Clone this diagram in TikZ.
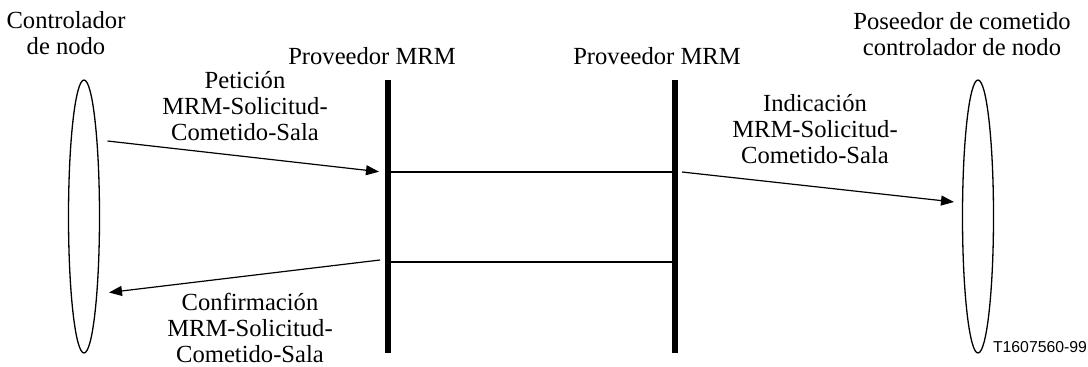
\documentclass[tikz,border=0pt]{standalone}
\usepackage{fontspec}
\setmainfont{Liberation Serif}
\newfontfamily\labsans{Liberation Sans}
\usetikzlibrary{arrows.meta,shapes.geometric}
\begin{document}
\begin{tikzpicture}[x=1pt,y=-1pt,
  lbl/.style={align=center,inner sep=0pt,font=\fontsize{24.6}{25.8}\selectfont},
  entity/.style={draw,line width=1.3pt,ellipse,inner sep=0pt,minimum width=31pt,minimum height=273pt},
  bar/.style={line width=6pt},
  link/.style={line width=2pt},
  msg/.style={line width=1.2pt,-{Triangle[length=13pt,width=10pt]}}]
\useasboundingbox (0,0) rectangle (1088,367);
% entities
\node[entity] (L) at (84,216.5) {};
\node[entity] (R) at (978,216.5) {};
% providers
\coordinate (p1t) at (387.7,80);
\coordinate (p1b) at (387.7,353);
\coordinate (p2t) at (675,80);
\coordinate (p2b) at (675,353);
\draw[bar] (p1t) -- (p1b);
\draw[bar] (p2t) -- (p2b);
% links between providers
\coordinate (h1a) at (387.7,172);
\coordinate (h1b) at (675,172);
\coordinate (h2a) at (387.7,262);
\coordinate (h2b) at (675,262);
\draw[link] (h1a) -- (h1b);
\draw[link] (h2a) -- (h2b);
% messages
\coordinate (a1s) at (107.5,141);
\coordinate (a1e) at (379,171.7);
\coordinate (a2s) at (682,172);
\coordinate (a2e) at (954,202);
\coordinate (a3s) at (380,260);
\coordinate (a3e) at (109,292.5);
\draw[msg] (a1s) -- (a1e);
\draw[msg] (a2s) -- (a2e);
\draw[msg] (a3s) -- (a3e);
% labels
\node[lbl] (tL) at (66,33) {Controlador\\de nodo};
\node[lbl] (tR) at (962,34) {Poseedor de cometido\\controlador de nodo};
\node[lbl] (tP1) at (372,56) {Proveedor MRM};
\node[lbl] (tP2) at (657,56) {Proveedor MRM};
\node[lbl] (m1) at (245,106) {Petici\'on\\MRM-Solicitud-\\Cometido-Sala};
\node[lbl] (m3) at (250,328) {Confirmaci\'on\\MRM-Solicitud-\\Cometido-Sala};
\node[lbl] (m2) at (815,129) {Indicaci\'on\\MRM-Solicitud-\\Cometido-Sala};
\node[inner sep=0pt,font=\labsans\fontsize{15.8}{17}\selectfont] (id) at (1040,347) {T1607560-99};
\end{tikzpicture}
\end{document}
